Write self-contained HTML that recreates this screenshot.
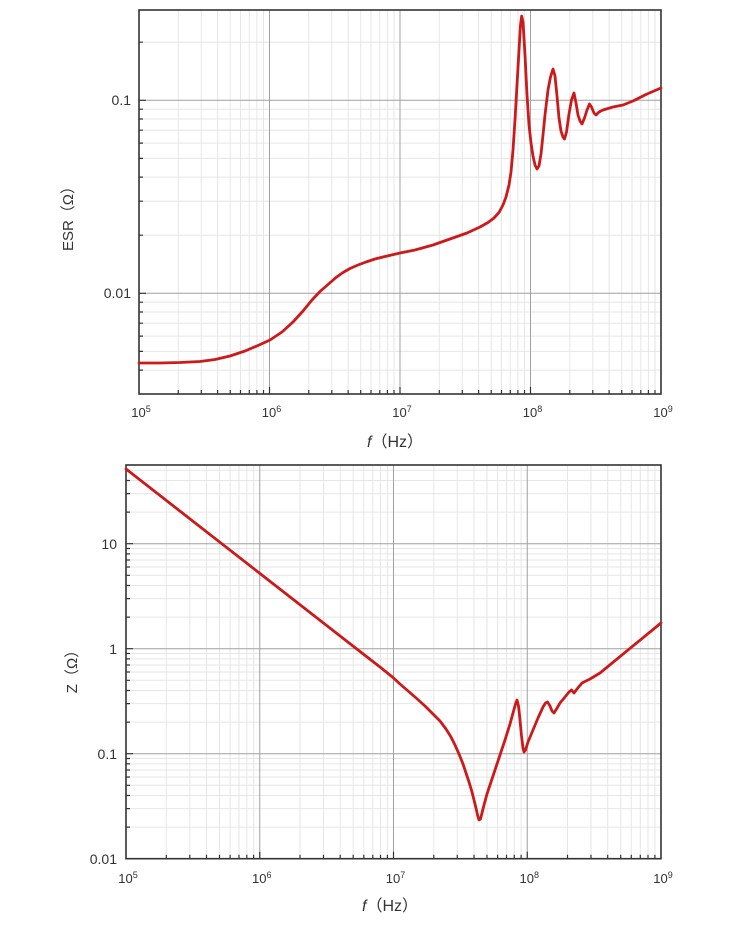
<!DOCTYPE html>
<html><head><meta charset="utf-8"><style>
html,body{margin:0;padding:0;background:#fff;}
svg{display:block;}
text{font-family:"Liberation Sans","Noto Sans CJK SC",sans-serif;fill:#333;}
</style></head><body>
<svg width="754" height="930" viewBox="0 0 754 930" xmlns="http://www.w3.org/2000/svg">
<rect width="754" height="930" fill="#fff"/>
<!-- ===== TOP PLOT ===== -->
<g stroke="#e6e6e6" stroke-width="1" fill="none">
<path d="M178.3,10V394M201.3,10V394M217.6,10V394M230.2,10V394M240.5,10V394M249.3,10V394M256.9,10V394M263.5,10V394
M308.8,10V394M331.8,10V394M348.1,10V394M360.7,10V394M371,10V394M379.8,10V394M387.4,10V394M394,10V394
M439.3,10V394M462.3,10V394M478.6,10V394M491.2,10V394M501.5,10V394M510.3,10V394M517.9,10V394M524.5,10V394
M569.8,10V394M592.8,10V394M609.1,10V394M621.7,10V394M632,10V394M640.8,10V394M648.4,10V394M655,10V394
M139,42.2H661M139,235.2H661M139,201.2H661M139,177.1H661M139,158.4H661M139,143.1H661M139,130.2H661M139,119H661M139,109.2H661
M139,370.1H661M139,351.4H661M139,336.1H661M139,323.2H661M139,312H661M139,302.2H661"/>
</g>
<g stroke="#a0a0a0" stroke-width="1" fill="none">
<path d="M269.5,10V394M400,10V394M530.5,10V394M139,100.3H661M139,293.3H661"/>
</g>
<g stroke="#333" stroke-width="1.2" fill="none">
<path d="M178.3,394v-4M201.3,394v-4M217.6,394v-4M230.2,394v-4M240.5,394v-4M249.3,394v-4M256.9,394v-4M263.5,394v-4
M308.8,394v-4M331.8,394v-4M348.1,394v-4M360.7,394v-4M371,394v-4M379.8,394v-4M387.4,394v-4M394,394v-4
M439.3,394v-4M462.3,394v-4M478.6,394v-4M491.2,394v-4M501.5,394v-4M510.3,394v-4M517.9,394v-4M524.5,394v-4
M569.8,394v-4M592.8,394v-4M609.1,394v-4M621.7,394v-4M632,394v-4M640.8,394v-4M648.4,394v-4M655,394v-4
M269.5,394v-7M400,394v-7M530.5,394v-7
M139,42.2h4M139,235.2h4M139,201.2h4M139,177.1h4M139,158.4h4M139,143.1h4M139,130.2h4M139,119h4M139,109.2h4
M139,370.1h4M139,351.4h4M139,336.1h4M139,323.2h4M139,312h4M139,302.2h4
M139,100.3h7M139,293.3h7"/>
</g>
<rect x="139" y="10" width="522" height="384" fill="none" stroke="#333" stroke-width="1.6"/>
<path fill="none" stroke="#cc1a1a" stroke-width="2.8" stroke-linejoin="round" stroke-linecap="round"
d="M139,363 L160,363 L180,362.5 L200,361.5 L215,359.5 L230,356 L245,351 L258,345.5 L270,340 L282,332 L293,322 L303,311 L312,300 L320,291.5 L328,284.5 L336,277.5 L343,272.5 L350,268.5 L358,265 L366,262 L375,259 L385,256.5 L400,253 L415,250 L433,245 L450,239 L467,233 L480,227 L488,222.5 L494,218 L499,212.5 L503,205 L506,197 L509,185 L511,172 L513,150 L515,120 L517,85 L519,50 L520.5,25 L521.7,16 L523,22 L525,55 L527,95 L529,125 L531,143 L533,156 L535,165 L537,169 L539,166 L541,154 L543,135 L545,115 L548,90 L550.5,77 L553,69 L555,76 L557,96 L559,118 L561,131 L563,137 L564.5,139 L566.5,132 L569,114 L571.5,100 L574,93 L576,103 L578,115 L580,121 L582,124 L584.5,118 L587,110 L589.5,104 L591.5,107 L594,113 L596,115 L599,112 L603,110 L613,107 L623,105 L633,101 L647,94 L661,88"/>
<g font-size="14" text-anchor="end">
<text x="131" y="105">0.1</text>
<text x="131" y="298">0.01</text>
</g>
<g font-size="13" text-anchor="middle">
<text x="141" y="417">10<tspan font-size="9" dy="-5">5</tspan></text>
<text x="271.5" y="417">10<tspan font-size="9" dy="-5">6</tspan></text>
<text x="402" y="417">10<tspan font-size="9" dy="-5">7</tspan></text>
<text x="532.5" y="417">10<tspan font-size="9" dy="-5">8</tspan></text>
<text x="663" y="417">10<tspan font-size="9" dy="-5">9</tspan></text>
</g>
<text x="395" y="447" font-size="16" text-anchor="middle"><tspan font-style="italic">f</tspan>（Hz）</text>
<text transform="translate(73,215) rotate(-90)" font-size="15" text-anchor="middle">ESR（Ω）</text>

<!-- ===== BOTTOM PLOT ===== -->
<g stroke="#e6e6e6" stroke-width="1" fill="none">
<path d="M166.3,465V858.7M189.8,465V858.7M206.5,465V858.7M219.5,465V858.7M230.1,465V858.7M239,465V858.7M246.8,465V858.7M253.6,465V858.7
M300,465V858.7M323.5,465V858.7M340.2,465V858.7M353.2,465V858.7M363.8,465V858.7M372.8,465V858.7M380.5,465V858.7M387.4,465V858.7
M433.8,465V858.7M457.3,465V858.7M474,465V858.7M487,465V858.7M497.6,465V858.7M506.5,465V858.7M514.3,465V858.7M521.1,465V858.7
M567.5,465V858.7M591,465V858.7M607.7,465V858.7M620.7,465V858.7M631.3,465V858.7M640.3,465V858.7M648,465V858.7M654.9,465V858.7
M126,827.1H661M126,808.6H661M126,795.5H661M126,785.3H661M126,777H661M126,770H661M126,763.9H661M126,758.5H661
M126,722.1H661M126,703.6H661M126,690.5H661M126,680.3H661M126,672H661M126,665H661M126,658.9H661M126,653.5H661
M126,617.1H661M126,598.6H661M126,585.5H661M126,575.3H661M126,567H661M126,560H661M126,553.9H661M126,548.5H661
M126,512.1H661M126,493.6H661M126,480.5H661M126,470.3H661"/>
</g>
<g stroke="#a0a0a0" stroke-width="1" fill="none">
<path d="M259.75,465V858.7M393.5,465V858.7M527.25,465V858.7M126,753.7H661M126,648.7H661M126,543.7H661"/>
</g>
<g stroke="#333" stroke-width="1.2" fill="none">
<path d="M166.3,858.7v-4M189.8,858.7v-4M206.5,858.7v-4M219.5,858.7v-4M230.1,858.7v-4M239,858.7v-4M246.8,858.7v-4M253.6,858.7v-4
M300,858.7v-4M323.5,858.7v-4M340.2,858.7v-4M353.2,858.7v-4M363.8,858.7v-4M372.8,858.7v-4M380.5,858.7v-4M387.4,858.7v-4
M433.8,858.7v-4M457.3,858.7v-4M474,858.7v-4M487,858.7v-4M497.6,858.7v-4M506.5,858.7v-4M514.3,858.7v-4M521.1,858.7v-4
M567.5,858.7v-4M591,858.7v-4M607.7,858.7v-4M620.7,858.7v-4M631.3,858.7v-4M640.3,858.7v-4M648,858.7v-4M654.9,858.7v-4
M259.75,858.7v-7M393.5,858.7v-7M527.25,858.7v-7
M126,827.1h4M126,808.6h4M126,795.5h4M126,785.3h4M126,777h4M126,770h4M126,763.9h4M126,758.5h4
M126,722.1h4M126,703.6h4M126,690.5h4M126,680.3h4M126,672h4M126,665h4M126,658.9h4M126,653.5h4
M126,617.1h4M126,598.6h4M126,585.5h4M126,575.3h4M126,567h4M126,560h4M126,553.9h4M126,548.5h4
M126,512.1h4M126,493.6h4M126,480.5h4M126,470.3h4
M126,753.7h7M126,648.7h7M126,543.7h7"/>
</g>
<rect x="126" y="465" width="535" height="393.7" fill="none" stroke="#333" stroke-width="1.6"/>
<path fill="none" stroke="#cc1a1a" stroke-width="2.8" stroke-linejoin="round" stroke-linecap="round"
d="M126,469 L259.3,573 L360,651.5 L380,667 L393,677.5 L400,684 L415,697 L425,706 L433,714 L440,721 L446,729 L451,737 L455,745 L459,754 L463,764 L466,773 L469,782 L472,792 L474,800 L476,808 L477.5,815 L479,820 L480.5,819 L482,813 L484,805 L487,794 L493,776 L500,755 L505,740 L510,724 L513,713 L515.5,704 L517,700 L518.5,706 L520,720 L521.5,736 L523,748 L524,752 L525.5,750 L528,742 L533,730 L538,718 L543,707 L545.5,703 L547.5,702 L550,706 L552,711 L554,713 L556.5,709 L560,703 L565,697 L569,692 L571.5,690 L574,693 L577,689 L582,683 L586,681 L590,679 L595,676 L600,673 L661,623"/>
<g font-size="14" text-anchor="end">
<text x="117" y="549">10</text>
<text x="117" y="654">1</text>
<text x="117" y="759">0.1</text>
<text x="117" y="864">0.01</text>
</g>
<g font-size="13" text-anchor="middle">
<text x="128" y="883">10<tspan font-size="9" dy="-5">5</tspan></text>
<text x="261.75" y="883">10<tspan font-size="9" dy="-5">6</tspan></text>
<text x="395.5" y="883">10<tspan font-size="9" dy="-5">7</tspan></text>
<text x="529.25" y="883">10<tspan font-size="9" dy="-5">8</tspan></text>
<text x="663" y="883">10<tspan font-size="9" dy="-5">9</tspan></text>
</g>
<text x="390" y="911" font-size="16" text-anchor="middle"><tspan font-style="italic">f</tspan>（Hz）</text>
<text transform="translate(77,668) rotate(-90)" font-size="15" text-anchor="middle">Z（Ω）</text>
</svg>
</body></html>
